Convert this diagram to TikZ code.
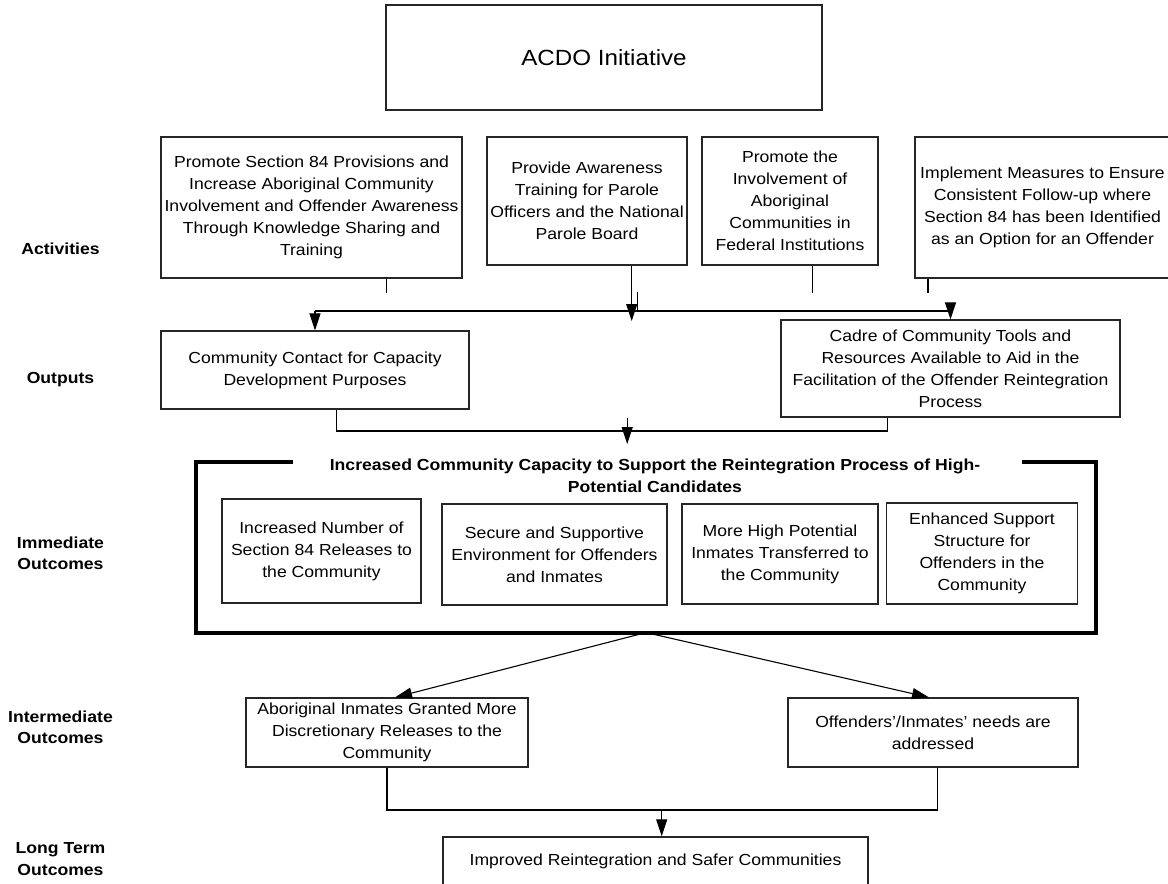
\documentclass[tikz,border=0pt]{standalone}
\usepackage{fontspec}
\setmainfont{Liberation Sans}[FakeStretch=1.1]
\usetikzlibrary{arrows.meta}

\begin{document}
\begin{tikzpicture}[x=1pt,y=-1pt,line width=1.1pt,
  font=\fontsize{16}{22}\selectfont,
  >={Triangle[width=11pt,length=17pt]},
  box/.style={draw=black!85,line width=1.2pt,rectangle,inner sep=0pt,align=center},
  lbl/.style={font=\fontsize{16}{21.5}\selectfont\bfseries,align=center}]
\useasboundingbox (0,0) rectangle (1168,884);

% --- Row labels ---
\foreach \y/\t [count=\i] in {249/Activities, 380/Outputs, 553.5/{Immediate\\Outcomes},
    727.3/{Intermediate\\Outcomes}, 859.2/{Long Term\\Outcomes}}
  \node[lbl] (lab\i) at (60.5,\y) {\t};

% --- Initiative ---
\node[box,minimum width=436pt,minimum height=105pt,font=\fontsize{22}{26}\selectfont] (acdo) at (604,57.5) {ACDO Initiative};

% --- Activities ---
\node[box,minimum width=301pt,minimum height=141pt] (act1) at (311.5,207.5)
  {Promote Section 84 Provisions and\\Increase Aboriginal Community\\Involvement and Offender Awareness\\Through Knowledge Sharing and\\Training};
\node[box,minimum width=200pt,minimum height=128pt] (act2) at (587,201)
  {Provide Awareness\\Training for Parole\\Officers and the National\\Parole Board};
\node[box,minimum width=176pt,minimum height=128pt] (act3) at (790,201)
  {Promote the\\Involvement of\\Aboriginal\\Communities in\\Federal Institutions};
\node[box,minimum width=255pt,minimum height=141pt] (act4) at (1042.5,207.5)
  {Implement Measures to Ensure\\Consistent Follow-up where\\Section 84 has been Identified\\as an Option for an Offender};

% --- Outputs ---
\node[box,minimum width=308pt,minimum height=78pt] (comm) at (315,370)
  {Community Contact for Capacity\\Development Purposes};
\node[box,minimum width=339pt,minimum height=97pt] (cadre) at (950.5,368.5)
  {Cadre of Community Tools and\\Resources Available to Aid in the\\Facilitation of the Offender Reintegration\\Process};

% activity stubs and bus
\coordinate (busY) at (0,311);
\foreach \n/\x in {act1/386.5, act3/812.5, act4/928}
  \draw (\n.south -| \x,0) -- (\x,293);
\coordinate (a2) at (631.7,321);
\draw[->] (act2.south -| a2) -- (a2);
\coordinate (a2s) at (637.3,292.3);
\draw (a2s) -- (a2s |- busY);
\draw[->] (comm.north |- busY) -- (comm.north);
\draw[->] (comm.north |- busY) -- (cadre.north |- busY) -- (cadre.north);

% --- Immediate outcomes ---
\node[minimum width=898pt,minimum height=169pt,inner sep=0pt] (imm) at (646,547.5) {};
\draw[line width=4pt] ([xshift=96.5pt]imm.north west) -- (imm.north west) -- (imm.south west)
  -- (imm.south east) -- (imm.north east) -- ([xshift=-73.6pt]imm.north east);
\node[lbl] (immtitle) at (655,476)
  {Increased Community Capacity to Support the Reintegration Process of High-\\Potential Candidates};
\node[box,minimum width=199pt,minimum height=104pt] (io1) at (321.5,551)
  {Increased Number of\\Section 84 Releases to\\the Community};
\node[box,minimum width=225pt,minimum height=101pt] (io2) at (554.5,554.5)
  {Secure and Supportive\\Environment for Offenders\\and Inmates};
\node[box,minimum width=196pt,minimum height=100pt] (io3) at (780,554)
  {More High Potential\\Inmates Transferred to\\the Community};
\node[box,minimum width=190.5pt,minimum height=101pt] (io4) at (982,553.5)
  {Enhanced Support\\Structure for\\Offenders in the\\Community};

% outputs into immediate outcomes
\coordinate (c1) at (336.4,431);
\coordinate (c2) at (887.5,431);
\draw (comm.south -| c1) -- (c1) -- (c2) -- (cadre.south -| c2);
\coordinate (o1) at (627.2,444);
\draw[->] (o1 |- cadre.south) -- (o1);

% --- Intermediate outcomes ---
\node[box,minimum width=282pt,minimum height=69pt] (int1) at (387,732.5)
  {Aboriginal Inmates Granted More\\Discretionary Releases to the\\Community};
\node[box,minimum width=290pt,minimum height=69pt] (int2) at (933,732.5)
  {Offenders'/Inmates' needs are\\addressed};
\draw[->] (imm.south) -- ([xshift=8pt]int1.north);
\draw[->] (imm.south) -- ([xshift=-4pt]int2.north);

% --- Long term outcome ---
\node[box,minimum width=425pt,minimum height=49pt] (final) at (655.5,861.5)
  {Improved Reintegration and Safer Communities};
\coordinate (f0) at (387,810);
\coordinate (i2b) at ([xshift=4.4pt]int2.south);
\draw (int1.south) -- (f0) -- (f0 -| i2b) -- (i2b);
\coordinate (f1) at (661.7,810);
\draw[->] (f1) -- (final.north -| f1);

\end{tikzpicture}
\end{document}
